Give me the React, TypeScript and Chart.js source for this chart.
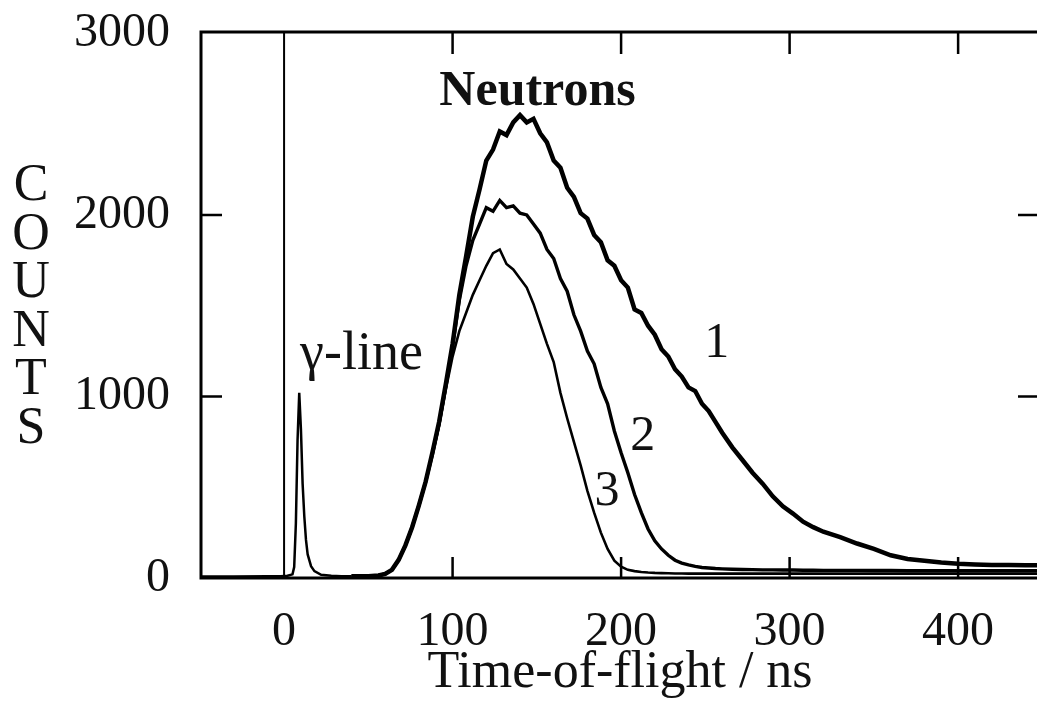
import React, { useEffect, useRef } from 'react';
import { Chart, registerables } from 'chart.js';

Chart.register(...registerables);

// ---- data ----
const startMarkerTime = [0, 0];
const startMarkerCounts = [0, 3010];

const gammaTime = [-50, -30, -10, -2, 2, 5, 6, 7, 8, 9, 10, 11, 12, 13, 14, 16, 18, 22, 28, 34, 40];
const gammaCounts = [8, 8, 9, 10, 12, 20, 60, 300, 760, 1020, 820, 520, 340, 210, 130, 65, 38, 18, 12, 10, 10];

const neutronTime = [
  40, 50, 56, 60, 64, 68, 72, 76, 80, 84, 88, 92, 96, 100, 104, 108, 112, 116, 120, 124,
  128, 132, 136, 140, 144, 148, 152, 156, 160, 164, 168, 172, 176, 180, 184, 188, 192, 196, 200, 204,
  208, 212, 216, 220, 224, 228, 232, 236, 240, 244, 248, 252, 256, 260, 266, 272, 278, 284, 290, 296,
  302, 308, 314, 320, 330, 340, 350, 360, 370, 380, 390, 400, 410, 420, 430, 440, 448,
];

const counts1 = [
  10, 10, 14, 22, 45, 100, 180, 280, 400, 530, 690, 860, 1070, 1290, 1560, 1770, 1990, 2140, 2300, 2360,
  2460, 2440, 2510, 2550, 2510, 2530, 2450, 2400, 2300, 2260, 2150, 2100, 2010, 1980, 1890, 1850, 1750, 1720, 1640, 1600,
  1480, 1460, 1390, 1340, 1260, 1220, 1150, 1110, 1050, 1030, 960, 920, 860, 800, 720, 650, 580, 520, 450, 395,
  355, 310, 280, 255, 225, 190, 160, 125, 105, 95, 85, 78, 74, 72, 72, 70, 70,
];

const counts2 = [
  10, 10, 14, 22, 45, 100, 180, 280, 400, 530, 680, 850, 1060, 1280, 1530, 1720, 1860, 1950, 2040, 2020,
  2080, 2040, 2050, 2010, 2000, 1950, 1900, 1810, 1760, 1650, 1580, 1450, 1360, 1250, 1180, 1050, 960, 810, 690, 580,
  460, 360, 270, 205, 160, 125, 98, 82, 72, 64, 58, 55, 52, 50, 48, 47, 46, 45, 45, 44,
  44, 43, 43, 42, 42, 42, 41, 41, 40, 40, 40, 40, 40, 40, 40, 40, 40,
];

const counts3 = [
  10, 10, 14, 22, 45, 100, 180, 280, 400, 530, 680, 840, 1040, 1220, 1360, 1460, 1560, 1640, 1720, 1790,
  1810, 1730, 1700, 1650, 1600, 1510, 1400, 1290, 1190, 1020, 880, 750, 620, 480, 360, 250, 160, 95, 62, 45,
  38, 33, 30, 28, 27, 26, 25, 25, 24, 24, 24, 24, 24, 24, 24, 24, 24, 24, 24, 24,
  24, 24, 24, 24, 24, 24, 24, 24, 24, 24, 24, 24, 24, 24, 24, 24, 24,
];

const xTickValues = [0, 100, 200, 300, 400];
const yTickValues = [0, 1000, 2000, 3000];
const xTitle = 'Time-of-flight / ns';
const yTitleLetters = ['C', 'O', 'U', 'N', 'T', 'S'];
const annotationTexts = ['Neutrons', 'γ-line', '1', '2', '3'];

// ---- presentation ----
const FONT = '"Liberation Serif", "DejaVu Serif", serif';
const INK = '#111';

const annotationPlacement = [
  { x: 150.4, y: 2606, font: `bold 50px ${FONT}`, align: 'center' as CanvasTextAlign },
  { x: 9.5, y: 1151, font: `54px ${FONT}`, align: 'left' as CanvasTextAlign },
  { x: 256.7, y: 1218, font: `50px ${FONT}`, align: 'center' as CanvasTextAlign },
  { x: 212.8, y: 705, font: `50px ${FONT}`, align: 'center' as CanvasTextAlign },
  { x: 191.7, y: 402, font: `50px ${FONT}`, align: 'center' as CanvasTextAlign },
];

const toPoints = (xs: number[], ys: number[]) => xs.map((x, i) => ({ x, y: ys[i] }));

const framePlugin = {
  id: 'frameAndText',
  afterDatasetsDraw(chart: any) {
    const { ctx, chartArea, scales } = chart;
    const { left, right, top, bottom } = chartArea;
    const x = scales.x;
    const y = scales.y;
    ctx.save();
    ctx.strokeStyle = '#000';
    ctx.lineWidth = 3;
    ctx.strokeRect(left, top, right - left, bottom - top);
    ctx.lineWidth = 2.5;
    x.ticks.forEach((t: any) => {
      if (t.value === 0) return;
      const px = x.getPixelForValue(t.value);
      ctx.beginPath();
      ctx.moveTo(px, bottom);
      ctx.lineTo(px, bottom - 21);
      ctx.moveTo(px, top);
      ctx.lineTo(px, top + 22);
      ctx.stroke();
    });
    y.ticks.forEach((t: any) => {
      if (t.value === 0 || t.value >= 3000) return;
      const py = y.getPixelForValue(t.value);
      ctx.beginPath();
      ctx.moveTo(left, py);
      ctx.lineTo(left + 21, py);
      ctx.moveTo(right, py);
      ctx.lineTo(right - 21, py);
      ctx.stroke();
    });

    ctx.fillStyle = INK;
    ctx.textBaseline = 'alphabetic';
    annotationTexts.forEach((text, i) => {
      const p = annotationPlacement[i];
      ctx.font = p.font;
      ctx.textAlign = p.align;
      ctx.fillText(text, x.getPixelForValue(p.x), y.getPixelForValue(p.y));
    });

    ctx.font = `52px ${FONT}`;
    ctx.textAlign = 'center';
    yTitleLetters.forEach((ch, i) => {
      ctx.fillText(ch, 31, 200 + i * 48.6);
    });
    ctx.restore();
  },
};

export default function App() {
  const ref = useRef<HTMLCanvasElement>(null);

  useEffect(() => {
    if (!ref.current) return;
    Chart.defaults.font.family = FONT;
    const chart = new Chart(ref.current, {
      type: 'line',
      data: {
        datasets: [
          { label: 't0', data: toPoints(startMarkerTime, startMarkerCounts), borderColor: '#000', borderWidth: 2 },
          { label: 'γ-line', data: toPoints(gammaTime, gammaCounts), borderColor: '#000', borderWidth: 2.5 },
          { label: '1', data: toPoints(neutronTime, counts1), borderColor: '#000', borderWidth: 4.5 },
          { label: '2', data: toPoints(neutronTime, counts2), borderColor: '#000', borderWidth: 3.4 },
          { label: '3', data: toPoints(neutronTime, counts3), borderColor: '#000', borderWidth: 2.6 },
        ],
      },
      options: {
        animation: false,
        responsive: false,
        elements: {
          point: { radius: 0 },
          line: { tension: 0, fill: false },
        },
        layout: { padding: { top: 32, right: 2, left: 0, bottom: 0 } },
        plugins: {
          legend: { display: false },
          tooltip: { enabled: false },
        },
        scales: {
          x: {
            type: 'linear',
            min: -49.3,
            max: 448,
            afterBuildTicks: (s: any) => {
              s.ticks = xTickValues.map((v) => ({ value: v }));
            },
            afterFit: (s: any) => {
              s.height = 136;
              s.paddingLeft = 0;
              s.paddingRight = 0;
            },
            grid: { display: false, drawTicks: false },
            border: { display: false },
            ticks: {
              maxRotation: 0,
              autoSkip: false,
              padding: 26,
              color: INK,
              font: { size: 48, family: FONT },
              callback: (v: any) => String(v),
            },
            title: {
              display: true,
              text: xTitle,
              color: INK,
              font: { size: 52, family: FONT },
              padding: { top: 0, bottom: 9 },
            },
          },
          y: {
            type: 'linear',
            min: 0,
            max: 3008,
            afterBuildTicks: (s: any) => {
              s.ticks = yTickValues.map((v) => ({ value: v }));
            },
            afterFit: (s: any) => {
              s.width = 201;
              s.paddingTop = 0;
              s.paddingBottom = 0;
            },
            grid: { display: false, drawTicks: false },
            border: { display: false },
            ticks: {
              autoSkip: false,
              padding: 31,
              color: INK,
              font: { size: 48, family: FONT },
              callback: (v: any) => String(v),
            },
          },
        },
      },
      plugins: [framePlugin],
    });
    return () => chart.destroy();
  }, []);

  return (
    <div
      style={{
        position: 'fixed',
        left: 0,
        top: 0,
        width: 1037,
        height: 714,
        overflow: 'hidden',
        background: '#fff',
      }}
    >
      <canvas ref={ref} width={1041} height={714} style={{ display: 'block' }} />
    </div>
  );
}
